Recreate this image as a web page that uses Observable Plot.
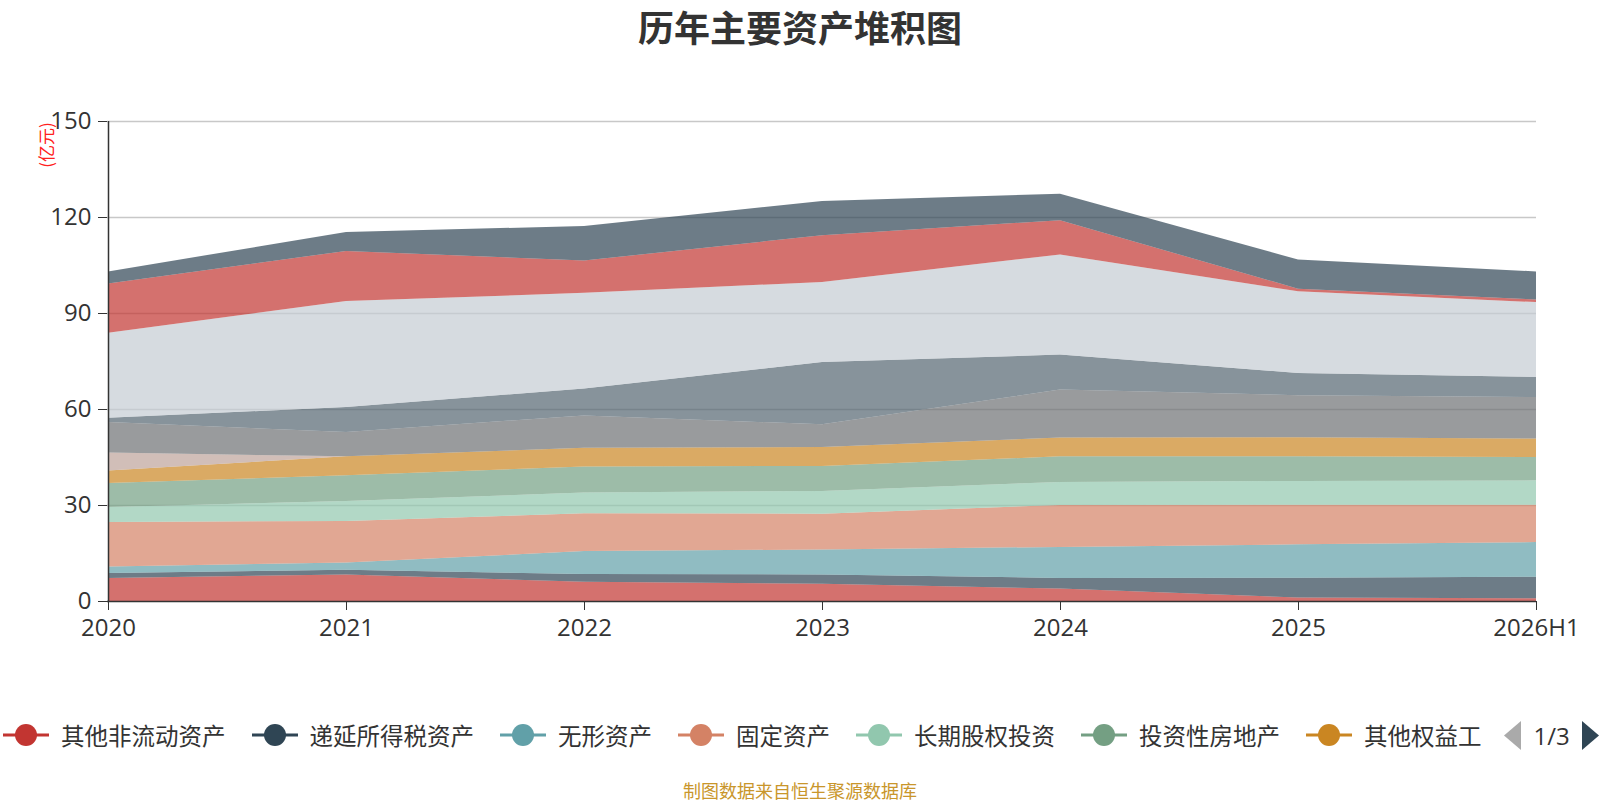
<!DOCTYPE html>
<html>
<head>
<meta charset="utf-8">
<script src="https://cdn.jsdelivr.net/npm/d3@7"></script>
<script src="https://cdn.jsdelivr.net/npm/@observablehq/plot@0.6"></script>
<style>
  html, body { margin: 0; padding: 0; background: #fff; }
  body { width: 1600px; height: 800px; overflow: hidden; font-family: "Noto Sans CJK SC", "Noto Sans", sans-serif; }
  #wrap { position: relative; width: 1600px; height: 800px; }
  #title { position: absolute; left: 0; top: 6px; width: 1600px; text-align: center; font-size: 36px; font-weight: bold; color: #333; line-height: 40px; }
  #chart { position: absolute; left: 0; top: 0; }
  #ylabel { position: absolute; left: 45px; top: 145px; transform: translate(-50%, -50%) rotate(-90deg); font-size: 17px; color: #ff2020; white-space: nowrap; line-height: 17px; }
  #legend { position: absolute; left: 3px; top: 719px; height: 32px; display: flex; align-items: center; font-size: 23.5px; color: #333; white-space: nowrap; }
  .item { display: flex; align-items: center; margin-right: 26px; }
  .item svg { margin-right: 12px; }
  .item span { display: inline-block; line-height: 32px; }
  .pager { display: flex; align-items: center; margin-left: -4px; }
  .pager .num { margin: 0 12px 0 13px; font-size: 24px; font-family: "Open Sans", sans-serif; }
  #footer { position: absolute; left: 0; top: 779px; width: 1600px; text-align: center; font-size: 18px; color: #c9962b; line-height: 22px; }
</style>
</head>
<body>
<div id="wrap">
  <div id="chart"></div>
  <div id="title">历年主要资产堆积图</div>
  <div id="ylabel">(亿元)</div>
  <div id="legend"></div>
  <div id="footer">制图数据来自恒生聚源数据库</div>
</div>
<script>
// ---- data (亿元) ----
const years = ["2020", "2021", "2022", "2023", "2024", "2025", "2026H1"];
const seriesNames = [
  "其他非流动资产", "递延所得税资产", "无形资产", "固定资产", "长期股权投资",
  "投资性房地产", "其他权益工具投资", "其他非流动金融资产", "其他流动资产",
  "存货", "应收账款", "交易性金融资产", "货币资金"
];
const otherNonCurrent   = [7.2, 8.3, 6.0, 5.4, 3.9, 1.06, 0.85];
const deferredTax       = [1.55, 1.5, 2.4, 2.9, 3.3, 6.24, 6.75];
const intangible        = [2.05, 2.2, 7.2, 7.8, 9.7, 10.4, 10.8];
const fixedAssets       = [13.9, 13.0, 11.8, 11.2, 13.1, 12.4, 11.7];
const longTermEquity    = [4.7, 6.25, 6.5, 7.1, 7.2, 7.4, 7.6];
const investmentProp    = [7.5, 8.05, 8.1, 7.8, 8.0, 7.7, 7.3];
const otherEquityInstr  = [3.9, 5.9, 5.9, 5.9, 5.9, 6.0, 5.8];
const otherNonCurFin    = [5.6, 0, 0, 0, 0, 0, 0];
const otherCurrent      = [9.5, 7.6, 10.1, 7.1, 15.0, 13.1, 12.95];
const inventory         = [1.4, 7.8, 8.4, 19.5, 10.9, 6.95, 6.25];
const receivables       = [26.5, 33.15, 29.9, 25.0, 31.3, 25.55, 23.4];
const tradingFinAssets  = [15.4, 15.65, 10.1, 14.6, 10.7, 0.8, 0.8];
const cash              = [3.8, 5.9, 10.8, 10.7, 8.3, 9.1, 8.8];
const seriesValues = [otherNonCurrent, deferredTax, intangible, fixedAssets, longTermEquity,
  investmentProp, otherEquityInstr, otherNonCurFin, otherCurrent, inventory, receivables,
  tradingFinAssets, cash];
const yTicks = [0, 30, 60, 90, 120, 150];

// ---- style ----
const palette = ["#c23531", "#2f4554", "#61a0a8", "#d48265", "#91c7ae", "#749f83", "#ca8622",
  "#bda29a", "#6e7074", "#546570", "#c4ccd3"];
const colorOf = i => palette[i % palette.length];

const data = seriesNames.flatMap((name, i) =>
  years.map((year, j) => ({name, year, value: seriesValues[i][j], color: colorOf(i)})));

const chart = Plot.plot({
  width: 1600,
  height: 660,
  marginLeft: 107,
  marginRight: 64,
  marginTop: 121,
  marginBottom: 59,
  style: {fontSize: "24px", fontFamily: "'Open Sans', 'Noto Sans', sans-serif", color: "#333", background: "transparent", overflow: "visible"},
  x: {type: "point", domain: years, padding: 0, tickSize: 9, tickPadding: 8, label: null},
  y: {domain: [0, 150], ticks: yTicks, tickSize: 9, tickPadding: 7, label: null},
  color: {type: "identity"},
  marks: [
    Plot.ruleY(yTicks.filter(d => d > 0), {stroke: "#c8c8c8", strokeWidth: 1.5}),
    Plot.areaY(data, Plot.stackY({x: "year", y: "value", z: "name", fill: "color", fillOpacity: 0.7})),
    Plot.ruleY([0], {stroke: "#333", strokeWidth: 1.5}),
    Plot.ruleX([years[0]], {stroke: "#333", strokeWidth: 1.5})
  ]
});
document.getElementById("chart").appendChild(chart);

// ---- legend (page 1 of 3; long names truncated as in the source) ----
const legend = document.getElementById("legend");
const shown = 7;
const maxChars = 5;
seriesNames.slice(0, shown).forEach((name, i) => {
  const item = document.createElement("div");
  item.className = "item";
  const c = colorOf(i);
  item.innerHTML = `<svg width="46" height="24" viewBox="0 0 46 24"><line x1="0" y1="12" x2="46" y2="12" stroke="${c}" stroke-width="3"/><circle cx="23" cy="12" r="11" fill="${c}"/></svg>`;
  const span = document.createElement("span");
  span.textContent = i === shown - 1 ? name.slice(0, maxChars) : name;
  item.appendChild(span);
  legend.appendChild(item);
});
const pager = document.createElement("div");
pager.className = "pager";
pager.innerHTML = `<svg width="17" height="29"><polygon points="17,0 0,14.5 17,29" fill="#aaa"/></svg><span class="num">1/3</span><svg width="17" height="29"><polygon points="0,0 17,14.5 0,29" fill="#2f4554"/></svg>`;
legend.appendChild(pager);
</script>
</body>
</html>
